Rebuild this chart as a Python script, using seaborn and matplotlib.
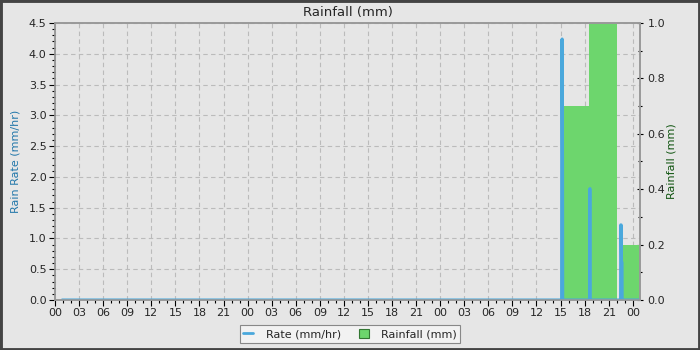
import matplotlib
matplotlib.use("Agg")
import matplotlib.pyplot as plt
import seaborn as sns
import numpy as np
from matplotlib.ticker import MultipleLocator, FuncFormatter
from matplotlib.lines import Line2D
from matplotlib.patches import Patch

# ---- data (hours since start of the 3-day window) ----
rate_t = [0.9, 63.13, 63.15, 63.20, 63.25, 63.27, 66.62, 66.64, 66.67, 66.69,
          70.48, 70.50, 70.56, 70.60, 70.66, 70.68, 72.9]
rate_v = [0.0, 0.0, 4.22, 4.24, 2.10, 0.0, 0.0, 1.80, 1.81, 0.0,
          0.0, 1.22, 1.22, 0.61, 0.61, 0.0, 0.0]

rain_start = [63.18, 66.55, 70.70]
rain_end = [66.55, 70.08, 73.5]
rain_mm = [0.70, 1.00, 0.20]

x_max = 72.9
rate_max = 4.5
rain_max = 1.0

title = "Rainfall (mm)"
left_label = "Rain Rate (mm/hr)"
right_label = "Rainfall (mm)"
legend_labels = ["Rate (mm/hr)", "Rainfall (mm)"]

# ---- style ----
sns.set_theme(style="white")
plt.rcParams["font.family"] = ["DejaVu Sans"]
plt.rcParams["font.size"] = 8

bg = "#e6e6e6"
blue = "#4aa8dc"
green = "#6dd66d"

fig = plt.figure(figsize=(7, 3.5), dpi=100, facecolor=bg)
ax = fig.add_axes([55/700, 1-300/350, 585/700, 277/350])
ax.set_facecolor(bg)
ax2 = ax.twinx()

# bars (rainfall) on right axis, drawn behind the rate line
widths = [e - s for s, e in zip(rain_start, rain_end)]
ax2.bar(rain_start, rain_mm, width=widths, align="edge", color=green,
        edgecolor="none", linewidth=0, zorder=1)
ax2.set_ylim(0, rain_max)

ax.set_zorder(ax2.get_zorder() + 1)
ax.patch.set_visible(False)
ax2.patch.set_visible(True)
ax2.patch.set_facecolor(bg)

sns.lineplot(x=rate_t, y=rate_v, ax=ax, color=blue, linewidth=2.2,
             estimator=None, sort=False, legend=False)
ax.set_xlim(0, x_max)
ax.set_ylim(0, rate_max)

for xv in np.arange(0, x_max + 0.01, 3):
    ax2.axvline(xv, color="#bbbbbb", linestyle=(0, (4, 3)), linewidth=0.8, zorder=0)
for yv in np.arange(0, rate_max + 0.01, 0.5):
    ax2.axhline(yv / rate_max * rain_max, color="#bbbbbb", linestyle=(0, (4, 3)),
                linewidth=0.8, zorder=0)

ax.xaxis.set_major_locator(MultipleLocator(3))
ax.xaxis.set_minor_locator(MultipleLocator(1))
ax.xaxis.set_major_formatter(FuncFormatter(lambda v, p: "%02d" % (int(round(v)) % 24)))
ax.yaxis.set_major_locator(MultipleLocator(0.5))
ax.yaxis.set_minor_locator(MultipleLocator(0.1))
ax.yaxis.set_major_formatter(FuncFormatter(lambda v, p: "%.1f" % v))
ax2.yaxis.set_major_locator(MultipleLocator(0.2))
ax2.yaxis.set_minor_locator(MultipleLocator(0.1))
ax2.yaxis.set_major_formatter(FuncFormatter(lambda v, p: "%.1f" % v))

ax.tick_params(axis="both", which="major", direction="out", length=4, width=0.8,
               color="black", labelsize=8, pad=2, bottom=True, left=True)
ax.tick_params(axis="both", which="minor", direction="out", length=2.5, width=0.8,
               color="black", bottom=True, left=True)
ax2.tick_params(axis="y", which="major", direction="inout", length=5, width=0.8,
                color="black", labelsize=8, pad=3, right=True)
ax2.tick_params(axis="y", which="minor", direction="inout", length=3, width=0.8,
                color="black", right=True)

for a in (ax, ax2):
    for s in a.spines.values():
        s.set_color("#999999")
        s.set_linewidth(1.2)

ax.set_xlabel("")
ax.set_ylabel(left_label, color="#2277aa", fontsize=8, labelpad=6)
ax2.set_ylabel(right_label, color="#115511", fontsize=8, labelpad=1)
ax.set_title(title, fontsize=9.5, pad=5)

handles = [Line2D([0], [0], color=blue, linewidth=2),
           Patch(facecolor=green, edgecolor="#337733", linewidth=0.8)]
leg = fig.legend(handles, legend_labels, loc="lower center", ncol=2,
                 bbox_to_anchor=(350/700, 1/350), fontsize=8, frameon=True,
                 fancybox=False, edgecolor="#888888", facecolor="#f2f2f2",
                 framealpha=1, handlelength=0.9, handleheight=0.9,
                 borderpad=0.35, columnspacing=1.6, handletextpad=1.1)
leg.get_frame().set_linewidth(0.8)

fig.patches.append(matplotlib.patches.Rectangle((0, 0), 1, 1, transform=fig.transFigure,
                   fill=False, edgecolor="#444444", linewidth=3.5, zorder=10))

fig.savefig("out.png", dpi=100, facecolor=bg)
